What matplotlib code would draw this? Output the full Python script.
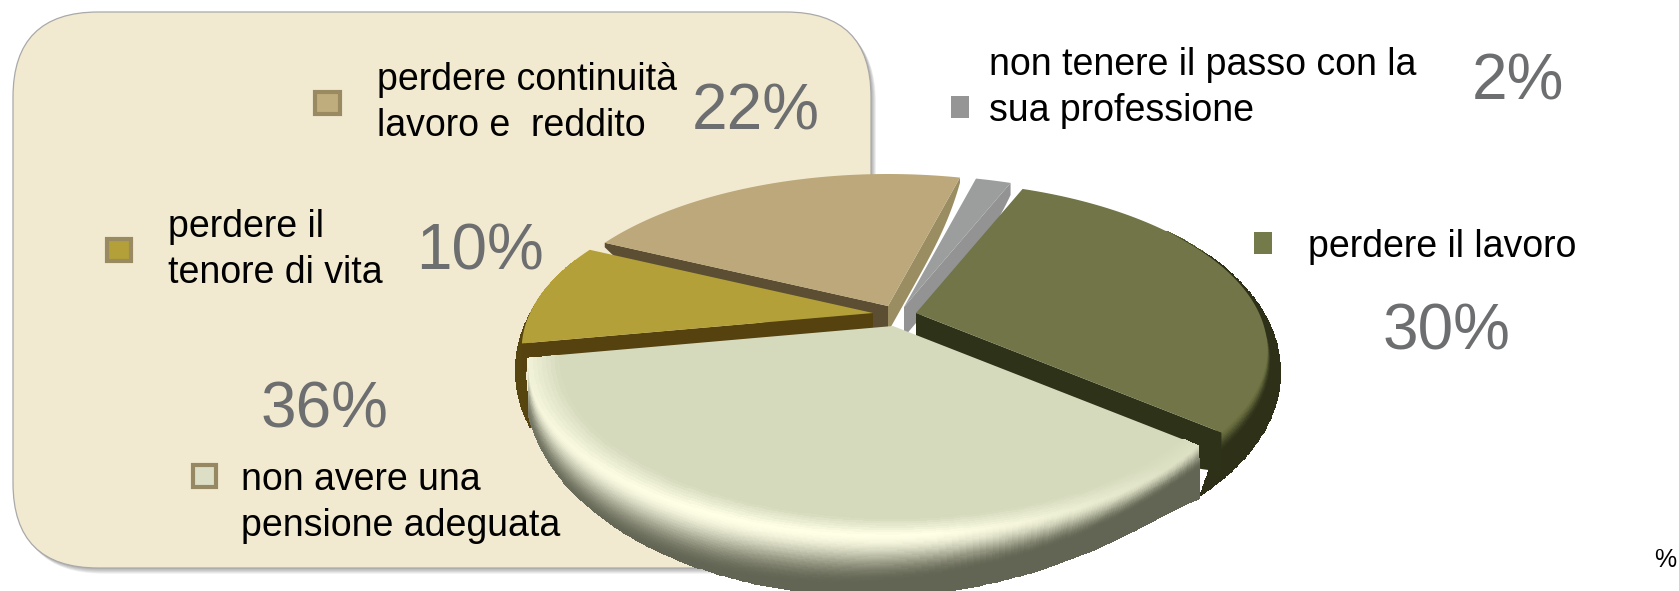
import numpy as np
import matplotlib
matplotlib.use('Agg')
import matplotlib.pyplot as plt
from matplotlib.patches import FancyBboxPatch, Polygon, Rectangle

plt.rcParams['font.family'] = ['Liberation Sans', 'DejaVu Sans']

# shares, clockwise from the olive slice
labels = ["perdere il lavoro", "non avere una\npensione adeguata", "perdere il\ntenore di vita",
          "perdere continuità\nlavoro e  reddito", "non tenere il passo con la\nsua professione"]
values = [30, 36, 10, 22, 2]
colors = ["#717547", "#d6dabd", "#b4a038", "#bca87a", "#9c9e9e"]
marker_colors = ["#757a4a", "#dcdfc5", "#b4a038", "#c0ad7e", "#959595"]

# layout, in reference pixels
apex = [(916, 313), (893, 326), (873, 313), (888, 306), (904, 307)]
text_xy = [(1308, 257), (241, 490), (168, 237), (377, 90), (989, 75)]
pct_xy = [(1383, 349), (261, 428), (416, 269), (692, 129), (1472, 99)]
marker_box = [(1254, 232, 18, 22), (191, 463, 27, 26), (105, 237, 28, 26), (313, 90, 29, 26), (951, 96, 18, 22)]
marker_edge = [None, "#958862", "#998a62", "#998a62", None]

START = -68.1
A, B, P = 343.0, 160.5, 0.216

fig = plt.figure(figsize=(16.79, 5.91), dpi=100)
ax = fig.add_axes([0, 0, 1, 1])
ax.set_xlim(0, 1679)
ax.set_ylim(591, 0)
ax.axis('off')


def project(phi, r=1.0):
    u = r * np.cos(np.radians(phi))
    v = r * np.sin(np.radians(phi))
    den = 1 - P * v
    return A * u / den, B * v / den


def hex_rgb(c):
    return np.array(matplotlib.colors.to_rgb(c))


def draw_side(c, phi1, phi2, ell, psi1, psi2, top, light, dark, inner, s0, s1, corner=(0, 0), glow=False, flare=0.0):
    # curved outer wall: rim goes down to an outline ellipse, s runs top to bottom
    phis = np.linspace(phi1, phi2, 140)
    psis = np.linspace(psi1, psi2, 140)
    ss = np.linspace(0, 1, 60)
    bevel = 0.12
    bump = np.exp(-(psis - psi1) / 12.0)
    rout = 1 + flare * (phis - phi1) / (phi2 - phi1)
    X = np.zeros((len(ss), len(phis)))
    Y = np.zeros_like(X)
    for i, s in enumerate(ss):
        if s < bevel:
            dx, dy = project(phis, inner + (rout - inner) * s / bevel)
            X[i] = c[0] + dx
            Y[i] = c[1] + dy
        else:
            dx, dy = project(phis, rout)
            bx = ell[0] + ell[2] * np.cos(np.radians(psis)) + corner[0] * bump
            by = ell[1] + ell[3] * np.sin(np.radians(psis)) + corner[1] * bump
            k = (s - bevel) / (1 - bevel)
            X[i] = (1 - k) * (c[0] + dx) + k * bx
            Y[i] = (1 - k) * (c[1] + dy) + k * by
    sm = 0.5 * (ss[:-1] + ss[1:])
    w = 0.5 * (phis[:-1] + phis[1:])
    w = (w - phi1) / (phi2 - phi1)
    S, W = np.meshgrid(sm, w, indexing='ij')
    C = np.zeros(S.shape + (4,))
    C[..., 3] = 1
    t0 = s0[0] + (s0[1] - s0[0]) * W
    t1 = s1[0] + (s1[1] - s1[0]) * W
    k = np.clip((S - t0) / (t1 - t0), 0, 1)
    k = k * k * (3 - 2 * k)
    b = np.clip(S / bevel, 0, 1)
    if glow:
        # the highlight is strongest at the front, weak at the right end
        b = b * np.clip(W / 0.35, 0.2, 1) * (1 - 0.35 * np.clip((W - 0.6) / 0.4, 0, 1))
    for ch in range(3):
        lit = top[ch] + (light[ch] - top[ch]) * b
        C[..., ch] = lit + (dark[ch] - lit) * k
    ax.pcolormesh(X, Y, C, shading='flat', edgecolors='face', linewidth=0.4, zorder=5)


def draw_face(c, phi, depth, taper, color):
    rr = np.linspace(0, 1, 40)
    dx, dy = project(phi, rr)
    d = depth * (1 - taper * rr ** 5)
    pts = np.r_[np.c_[c[0] + dx, c[1] + dy], np.c_[c[0] + dx, c[1] + dy + d][::-1]]
    ax.add_patch(Polygon(pts, closed=True, facecolor=color, edgecolor='none', zorder=5))


def draw_top(c, phi1, phi2, color):
    phis = np.linspace(phi1, phi2, 200)
    dx, dy = project(phis)
    pts = np.r_[[c], np.c_[c[0] + dx, c[1] + dy]]
    ax.add_patch(Polygon(pts, closed=True, facecolor=color, edgecolor='none', zorder=5))


# panel and its soft shadow
for i in range(9):
    ax.add_patch(FancyBboxPatch((13 + 1 + i * 0.5, 12 + 1 + i * 0.6), 858, 556,
                                boxstyle="round,pad=0,rounding_size=85", facecolor='#505050',
                                edgecolor='none', alpha=0.055, zorder=1))
ax.add_patch(FancyBboxPatch((13, 12), 858, 556, boxstyle="round,pad=0,rounding_size=85",
                            facecolor='#f2ead0', edgecolor='#a9a9a9', linewidth=0.9, zorder=2))

# legend text, keys and percentages
for i in range(len(values)):
    lines = labels[i].split("\n")
    for j, line in enumerate(lines):
        ax.text(text_xy[i][0], text_xy[i][1] + j * 46, line, fontsize=27.0, color='black',
                ha='left', va='baseline', zorder=3)
    ax.text(pct_xy[i][0], pct_xy[i][1], f"{values[i]}%", fontsize=46, color='#6d6e70',
            ha='left', va='baseline', zorder=3)
    x, y, w, h = marker_box[i]
    if marker_edge[i] is None:
        ax.add_patch(Rectangle((x, y), w, h, facecolor=marker_colors[i], edgecolor='none', zorder=3))
    else:
        ax.add_patch(Rectangle((x + 2, y + 2), w - 4, h - 4, facecolor=marker_colors[i],
                               edgecolor=marker_edge[i], linewidth=3, zorder=3))
ax.text(1665, 567, "%", fontsize=18, color='black', ha='center', va='baseline', zorder=3)

# slice angles come from the shares
edges = START + np.r_[0, np.cumsum(values)] * 3.6

# tan
draw_face(apex[3], edges[3], 45, 0.9, "#5b4e33")
draw_face(apex[3], edges[4], 26, 0.8, "#9b8d62")
draw_top(apex[3], edges[3], edges[4], colors[3])
# grey
draw_face(apex[4], edges[5], 30, 0.6, "#939393")
draw_top(apex[4], edges[4], edges[5], colors[4])
# olive
draw_side(apex[0], -35, edges[1], (900, 372, 380, 200), -35, edges[1] - 2,
          hex_rgb(colors[0]), hex_rgb("#6f7343"), hex_rgb("#2e3118"), 0.985, (0.1, 0.1), (0.5, 0.5))
draw_face(apex[0], edges[1], 60, 0.35, "#2e3218")
draw_top(apex[0], edges[0], edges[1], colors[0])
# gold
draw_side(apex[2], edges[2], 201, (875, 370, 360, 200), edges[2] - 6, 201,
          hex_rgb(colors[2]), hex_rgb("#c9ac40"), hex_rgb("#57450f"), 0.975, (0.12, 0.12), (0.3, 0.3))
draw_face(apex[2], edges[2], 40, 0.3, "#55420f")
draw_top(apex[2], edges[2], edges[3], colors[2])
# sage, the big one in front
draw_top(apex[1], edges[1], edges[2], colors[1])
draw_side(apex[1], edges[1], edges[2], (870, 385, 345, 210), 28, 172,
          hex_rgb(colors[1]), hex_rgb("#ffffe6"), hex_rgb("#626553"), 0.955, (0.1, 0.15), (0.5, 1.25),
          corner=(24, 14), glow=True, flare=0.04)

fig.savefig('out.png', dpi=100)
plt.close(fig)
